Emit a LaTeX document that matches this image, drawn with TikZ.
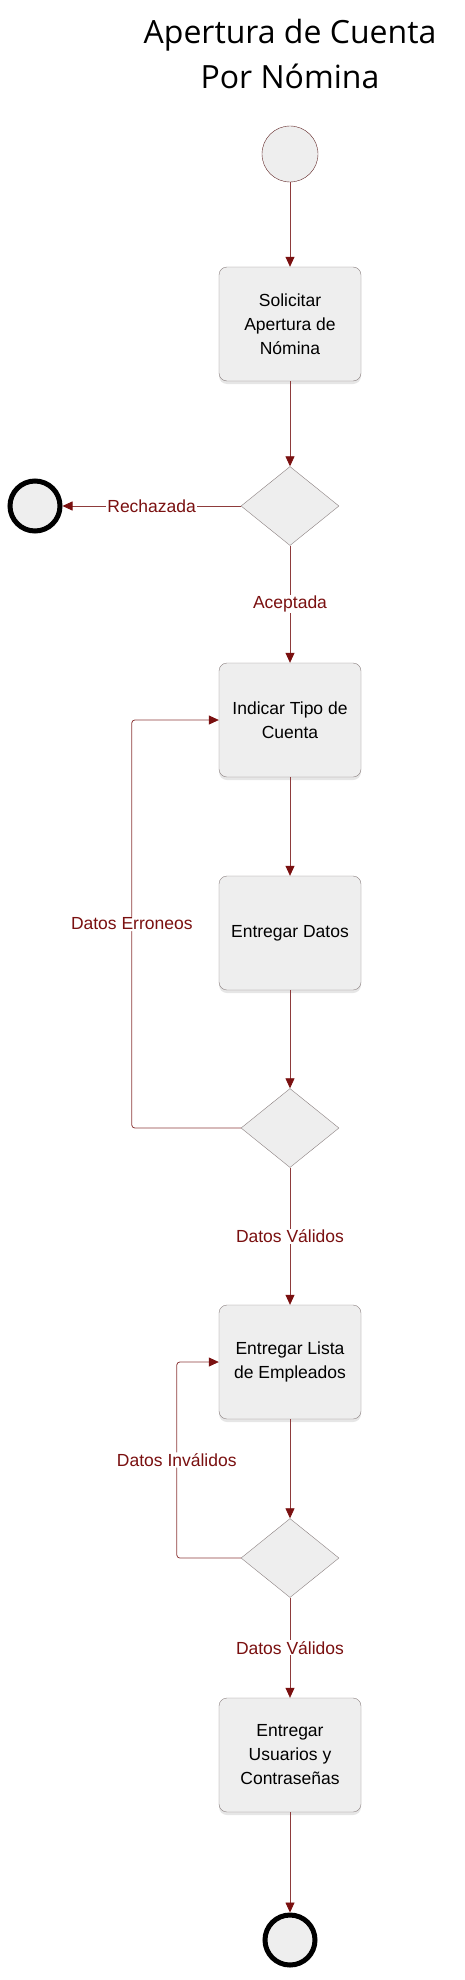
\documentclass[tikz,border=0pt]{standalone}
\usepackage{fontspec}
\setmainfont{Liberation Sans}
\newfontfamily\titlefont{Open Sans}
\usetikzlibrary{shapes.geometric, arrows.meta, shadows}

\definecolor{linered}{HTML}{8E3B3B}
\definecolor{tipred}{HTML}{7A1010}
\definecolor{boxgray}{HTML}{EEEEEE}
\definecolor{edgegray}{HTML}{8A7F7F}

\begin{document}
\begin{tikzpicture}[x=1pt, y=-1pt, >={Triangle[length=10pt, width=9pt, color=tipred]},
  activity/.style={draw=edgegray, fill=boxgray, rounded corners=8pt, minimum width=142pt,
    minimum height=114pt, align=center, font=\fontsize{17.5}{24}\selectfont,
    drop shadow={shadow xshift=0pt, shadow yshift=-3pt, opacity=0.2}},
  decision/.style={diamond, draw=edgegray, fill=boxgray, minimum width=98pt,
    minimum height=79pt, inner sep=0pt},
  startnode/.style={circle, draw=linered!70!black, fill=boxgray, minimum size=56pt, inner sep=0pt},
  endnode/.style={circle, draw=black, line width=5pt, fill=boxgray, minimum size=50pt, inner sep=0pt},
  flow/.style={->, draw=linered, line width=0.8pt},
  lbl/.style={fill=white, text=tipred, inner sep=1pt, font=\fontsize{17.5}{22}\selectfont}]

\useasboundingbox (0,0) rectangle (465,1980);

% Title
\node (title) at (290,54) [align=center, font=\titlefont\fontsize{32}{45}\selectfont]
  {Apertura de Cuenta\\Por Nómina};

% Start and end points
\node [startnode] (inicio) at (290,154) {};
\node [endnode] (rechazo) at (35,506) {};
\node [endnode] (fin) at (290,1940) {};

% Activities
\node [activity] (solicitar) at (290,324) {Solicitar\\Apertura de\\Nómina};
\node [activity] (indicar) at (290,720) {Indicar Tipo de\\Cuenta};
\node [activity] (entregar) at (290,933) {Entregar Datos};
\node [activity] (lista) at (290,1362) {Entregar Lista\\de Empleados};
\node [activity] (usuarios) at (290,1755) {Entregar\\Usuarios y\\Contraseñas};

% Decisions
\node [decision] (dec1) at (290,506) {};
\node [decision] (dec2) at (290,1128) {};
\node [decision] (dec3) at (290,1558) {};

% Plain arrows down the column
\foreach \a/\b in {inicio/solicitar, solicitar/dec1, indicar/entregar, entregar/dec2,
  lista/dec3, usuarios/fin} {
  \draw [flow] (\a) -- (\b);
}

% Labelled arrows
\draw [flow] (dec1) -- node [lbl] {Rechazada} (rechazo);
\draw [flow] (dec1) -- node [lbl] {Aceptada} (indicar);
\draw [flow] (dec2) -- node [lbl] {Datos Válidos} (lista);
\draw [flow] (dec3) -- node [lbl] {Datos Válidos} (usuarios);

% Loops back
\draw [flow, rounded corners=3pt] (dec2.west) -- ++(-109,0)
  |- node [lbl, pos=0.25] {Datos Erroneos} (indicar.west);
\draw [flow, rounded corners=3pt] (dec3.west) -- ++(-64,0)
  |- node [lbl, pos=0.25] {Datos Inválidos} (lista.west);

\end{tikzpicture}
\end{document}
